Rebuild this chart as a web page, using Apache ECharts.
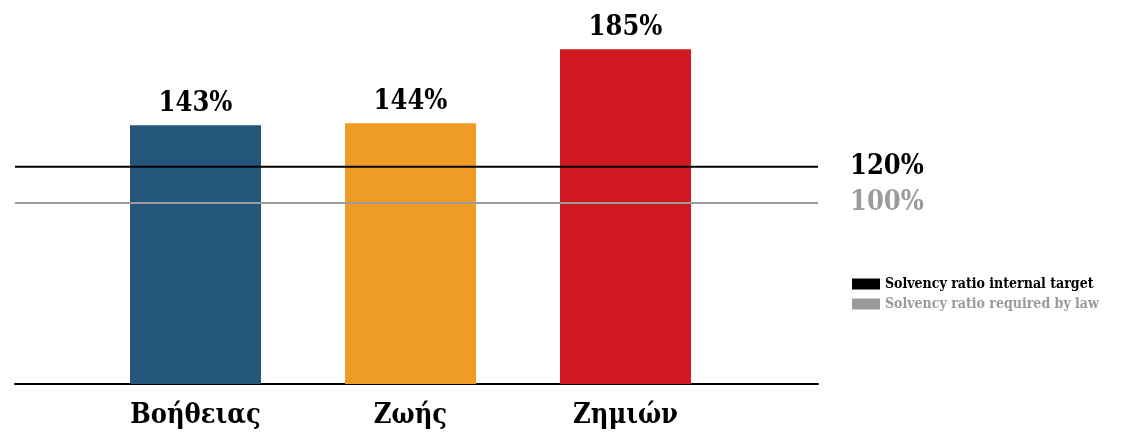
<!DOCTYPE html>
<html>
<head>
<meta charset="utf-8">
<script src="https://cdn.jsdelivr.net/npm/echarts@6/dist/echarts.min.js"></script>
<style>
  html, body { margin: 0; padding: 0; background: #fff; }
  #chart { width: 1135px; height: 433px; }
</style>
</head>
<body>
<div id="chart"></div>
<script>
const categories = ["Βοήθειας", "Ζωής", "Ζημιών"];
const ratios = [143, 144, 185];
const barColors = ["#24557a", "#ee9c25", "#d01820"];
const internalTarget = 120;
const requiredByLaw = 100;

const font = "'DejaVu Serif Condensed', 'DejaVu Serif', serif";

let myChart = echarts.init(document.getElementById("chart"));
myChart.setOption({
  animation: false,
  textStyle: { fontFamily: font },
  grid: [
    { left: 15, right: 317, top: 22, bottom: 49 }, // lines + baseline
    { left: 88, right: 402, top: 22, bottom: 49 }  // bars
  ],
  legend: {
    orient: "vertical",
    left: 847,
    top: 272,
    itemGap: 6,
    itemWidth: 28,
    itemHeight: 11,
    icon: "rect",
    textStyle: { fontFamily: font, fontSize: 14, fontWeight: "bold" },
    data: [
      { name: "Solvency ratio internal target", textStyle: { color: "#000" } },
      { name: "Solvency ratio required by law", textStyle: { color: "#9b9b9b" } }
    ]
  },
  xAxis: [
    {
      gridIndex: 0,
      type: "value",
      min: 0,
      max: 1,
      splitLine: { show: false },
      axisTick: { show: false },
      axisLabel: { show: false },
      axisLine: { show: true, onZero: false, lineStyle: { color: "#000", width: 2 } }
    },
    {
      gridIndex: 1,
      type: "category",
      data: categories,
      axisTick: { show: false },
      axisLine: { show: false },
      axisLabel: {
        margin: 18,
        color: "#000",
        fontSize: 27,
        fontWeight: "bold",
        fontFamily: font
      }
    }
  ],
  yAxis: [
    { gridIndex: 0, type: "value", min: 0, max: 200, show: false },
    { gridIndex: 1, type: "value", min: 0, max: 200, show: false }
  ],
  series: [
    {
      type: "bar",
      xAxisIndex: 1,
      yAxisIndex: 1,
      barWidth: 131,
      z: 1,
      data: ratios.map((v, i) => ({ value: v, itemStyle: { color: barColors[i] } })),
      label: {
        show: true,
        position: "top",
        distance: 8,
        formatter: "{c}%",
        color: "#000",
        fontSize: 27,
        fontWeight: "bold",
        fontFamily: font
      }
    },
    {
      name: "Solvency ratio internal target",
      type: "line",
      xAxisIndex: 0,
      yAxisIndex: 0,
      z: 5,
      symbol: "none",
      color: "#000",
      lineStyle: { color: "#000", width: 2 },
      data: [[0, internalTarget], [1, internalTarget]],
      endLabel: {
        show: true,
        distance: 32,
        formatter: internalTarget + "%",
        color: "#000",
        fontSize: 27,
        fontWeight: "bold",
        fontFamily: font
      }
    },
    {
      name: "Solvency ratio required by law",
      type: "line",
      xAxisIndex: 0,
      yAxisIndex: 0,
      z: 5,
      symbol: "none",
      color: "#9b9b9b",
      lineStyle: { color: "#9b9b9b", width: 2 },
      data: [[0, requiredByLaw], [1, requiredByLaw]],
      endLabel: {
        show: true,
        distance: 32,
        formatter: requiredByLaw + "%",
        color: "#9b9b9b",
        fontSize: 27,
        fontWeight: "bold",
        fontFamily: font
      }
    }
  ]
});
</script>
</body>
</html>
